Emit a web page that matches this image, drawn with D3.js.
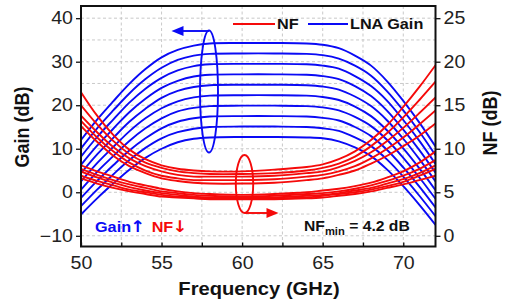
<!DOCTYPE html>
<html><head><meta charset="utf-8">
<script src="https://cdn.jsdelivr.net/npm/d3@7/dist/d3.min.js"></script>
<style>
body{margin:0;background:#fff}
svg{display:block;font-family:"Liberation Sans",Arial,Helvetica,sans-serif}
</style>
</head><body>
<svg id="c" width="506" height="303"></svg>
<script>
// ---- data ----
const freq = [50,51,52,53,54,55,56,57,58,60,62,64,65,66,67,68,69,70,71,72];
const gain0 = [12.0,16.7,20.9,24.9,28.3,31.0,32.7,33.7,34.2,34.3,34.3,34.2,33.9,33.1,31.4,29.1,25.5,21.0,16.0,10.5];
const gain1 = [10.1,14.7,18.8,22.7,26.0,28.6,30.4,31.4,31.8,31.9,31.9,31.8,31.5,30.7,29.1,26.8,23.2,18.8,13.9,8.5];
const gain2 = [8.2,12.7,16.7,20.6,23.8,26.3,28.0,29.0,29.4,29.5,29.5,29.4,29.1,28.4,26.7,24.4,21.0,16.6,11.8,6.5];
const gain3 = [6.3,10.7,14.6,18.4,21.5,24.0,25.6,26.6,27.0,27.1,27.1,27.0,26.7,26.0,24.4,22.1,18.7,14.4,9.7,4.5];
const gain4 = [4.4,8.7,12.5,16.2,19.2,21.7,23.3,24.2,24.6,24.7,24.7,24.6,24.3,23.6,22.0,19.8,16.5,12.3,7.6,2.5];
const gain5 = [2.5,6.7,10.4,14.0,17.0,19.3,20.9,21.8,22.2,22.3,22.3,22.2,21.9,21.2,19.7,17.5,14.2,10.1,5.5,0.5];
const gain6 = [0.6,4.7,8.3,11.8,14.7,17.0,18.6,19.4,19.8,19.9,19.9,19.8,19.5,18.8,17.3,15.2,12.0,7.9,3.4,-1.5];
const gain7 = [-1.3,2.6,6.2,9.6,12.4,14.7,16.2,17.0,17.4,17.5,17.5,17.4,17.1,16.5,15.0,12.9,9.7,5.7,1.3,-3.5];
const gain8 = [-3.2,0.6,4.1,7.4,10.2,12.4,13.8,14.6,15.0,15.1,15.1,15.0,14.7,14.1,12.6,10.6,7.5,3.6,-0.8,-5.5];
const gain9 = [-5.1,-1.4,2.0,5.2,7.9,10.0,11.5,12.3,12.6,12.7,12.7,12.6,12.4,11.7,10.3,8.3,5.2,1.4,-2.9,-7.5];
const nf0 = [16.5,13.8,11.6,9.9,8.8,8.1,7.7,7.5,7.4,7.4,7.6,7.9,8.2,8.8,9.7,11.0,12.7,14.8,17.1,19.6];
const nf1 = [15.0,12.8,10.9,9.4,8.4,7.8,7.4,7.2,7.1,7.1,7.2,7.5,7.8,8.3,9.1,10.3,11.8,13.6,15.6,17.7];
const nf2 = [13.8,11.9,10.2,8.9,8.0,7.4,7.0,6.8,6.8,6.8,6.9,7.2,7.4,7.9,8.6,9.6,10.9,12.4,14.1,15.9];
const nf3 = [13.2,11.3,9.7,8.4,7.5,6.9,6.6,6.4,6.4,6.4,6.5,6.8,7.0,7.4,8.0,8.9,10.0,11.3,12.8,14.4];
const nf4 = [12.6,10.8,9.2,8.0,7.2,6.6,6.3,6.1,6.0,6.0,6.1,6.4,6.6,7.0,7.5,8.3,9.2,10.3,11.5,12.9];
const nf5 = [8.1,7.4,6.8,6.2,5.8,5.4,5.1,4.9,4.8,4.7,4.8,5.0,5.2,5.4,5.7,6.1,6.7,7.4,8.4,9.7];
const nf6 = [7.7,7.0,6.4,5.9,5.5,5.1,4.9,4.7,4.6,4.5,4.6,4.8,4.9,5.1,5.4,5.8,6.3,6.9,7.7,8.7];
const nf7 = [7.4,6.7,6.1,5.6,5.2,4.9,4.7,4.5,4.4,4.4,4.4,4.6,4.7,4.9,5.2,5.5,6.0,6.5,7.2,8.1];
const nf8 = [6.9,6.3,5.8,5.3,5.0,4.7,4.5,4.4,4.3,4.3,4.3,4.4,4.6,4.8,5.0,5.3,5.7,6.2,6.9,7.7];
const nf9 = [6.6,6.0,5.5,5.1,4.8,4.5,4.4,4.3,4.2,4.2,4.2,4.3,4.4,4.6,4.8,5.1,5.5,5.9,6.4,6.9];
const gainSeries = [gain0,gain1,gain2,gain3,gain4,gain5,gain6,gain7,gain8,gain9];
const nfSeries = [nf0,nf1,nf2,nf3,nf4,nf5,nf6,nf7,nf8,nf9];
const xTicks = [50,55,60,65,70];
const xMinor = [52.5,57.5,62.5,67.5];
const gainTicks = [-10,0,10,20,30,40];
const nfTicks = [0,5,10,15,20,25];
const gridX = [52.5,55,57.5,60,62.5,65,67.5,70];
const gridY = [-10,-5,0,5,10,15,20,25,30,35,40];
const legendLabels = ["NF","LNA Gain"];
const nfMinLabel = {main:"NF", sub:"min", rest:" = 4.2 dB"};

// ---- layout ----
const L=81, R=435.5, T=6, B=246.5;
const SX = 1.12; // horizontal text stretch
const BLUE="#0a0af5", RED="#f50a0a";
const svg = d3.select("#c");
const x = d3.scaleLinear([50,72],[L,R]);
const yG = d3.scaleLinear([-12.46,42.8],[B,T]);
const yN = d3.scaleLinear([-1.23,26.4],[B,T]);

// grid
const grid = svg.append("g").attr("stroke","#c9c9c9").attr("stroke-width",1).attr("stroke-dasharray","3,2.5");
grid.selectAll("line.v").data(gridX).join("line").attr("class","v")
  .attr("x1",d=>x(d)).attr("x2",d=>x(d)).attr("y1",T).attr("y2",B);
grid.selectAll("line.h").data(gridY).join("line").attr("class","h")
  .attr("y1",d=>yG(d)).attr("y2",d=>yG(d)).attr("x1",L).attr("x2",R);

// clip
svg.append("clipPath").attr("id","clip").append("rect").attr("x",L).attr("y",T).attr("width",R-L).attr("height",B-T);
const plot = svg.append("g").attr("clip-path","url(#clip)");
const lineG = d3.line().x((d,i)=>x(freq[i])).y(d=>yG(d)).curve(d3.curveCatmullRom.alpha(0.5));
const lineN = d3.line().x((d,i)=>x(freq[i])).y(d=>yN(d)).curve(d3.curveCatmullRom.alpha(0.5));
plot.selectAll("path.g").data(gainSeries).join("path").attr("class","g")
  .attr("d",lineG).attr("fill","none").attr("stroke",BLUE).attr("stroke-width",1.9);
plot.selectAll("path.n").data(nfSeries).join("path").attr("class","n")
  .attr("d",lineN).attr("fill","none").attr("stroke",RED).attr("stroke-width",1.9);

// axes
function styleAxis(g){
  g.select(".domain").remove();
  g.selectAll("line").attr("stroke","#111").attr("stroke-width",1.3);
  g.selectAll("text").attr("fill","#222").style("font-size","17.5px");
}
const ax = svg.append("g").attr("transform",`translate(0,${B})`)
  .call(d3.axisBottom(x).tickValues(xTicks.concat(xMinor)).tickSize(-4).tickPadding(10)
    .tickFormat(d=>xTicks.includes(d)?d:""));
styleAxis(ax);
ax.selectAll("text").attr("transform",`scale(${SX},1)`);

const ay = svg.append("g").attr("transform",`translate(${L},0)`)
  .call(d3.axisLeft(yG).tickValues(gainTicks).tickSize(5).tickPadding(3));
styleAxis(ay);
ay.selectAll("text").attr("x",-8/SX).attr("transform",`scale(${SX},1)`);

const ayr = svg.append("g").attr("transform",`translate(${R},0)`)
  .call(d3.axisRight(yN).tickValues(nfTicks).tickSize(5).tickPadding(3));
styleAxis(ayr);
ayr.selectAll("text").attr("x",8/SX).attr("transform",`scale(${SX},1)`);

// frame
svg.append("rect").attr("x",L).attr("y",T).attr("width",R-L).attr("height",B-T)
  .attr("fill","none").attr("stroke","#111").attr("stroke-width",2);

// axis titles
function stretchedText(px,py,rot,txt,size,color){
  return svg.append("text").attr("transform",`translate(${px},${py}) rotate(${rot}) scale(${rot?1:SX},${rot?SX:1})`)
    .attr("text-anchor","middle").style("font-size",size+"px").style("font-weight","bold").attr("fill",color).text(txt);
}
stretchedText(259,295,0,"Frequency (GHz)",18,"#111");
stretchedText(29,127,-90,"Gain (dB)",18,"#111");
stretchedText(497,123,-90,"NF (dB)",18,"#111");

// legend
const leg = svg.append("g");
leg.append("line").attr("x1",233).attr("x2",275).attr("y1",24).attr("y2",24).attr("stroke",RED).attr("stroke-width",1.9);
leg.append("line").attr("x1",308).attr("x2",348).attr("y1",24).attr("y2",24).attr("stroke",BLUE).attr("stroke-width",1.9);
leg.append("text").attr("transform",`translate(277,29) scale(${SX},1)`).style("font-size","14.5px").style("font-weight","bold").attr("fill","#111").text(legendLabels[0]);
leg.append("text").attr("transform",`translate(350,29) scale(${SX},1)`).style("font-size","14.5px").style("font-weight","bold").attr("fill","#111").text(legendLabels[1]);

// annotations: ellipses + arrows
const ann = svg.append("g").attr("fill","none").attr("stroke-width",1.9);
ann.append("ellipse").attr("cx",209).attr("cy",91.5).attr("rx",9).attr("ry",61).attr("stroke",BLUE);
ann.append("line").attr("x1",209).attr("x2",182).attr("y1",31).attr("y2",31).attr("stroke",BLUE);
svg.append("path").attr("d","M171.5,31 L183.5,26 L183.5,36 Z").attr("fill",BLUE);
ann.append("ellipse").attr("cx",244.5).attr("cy",184).attr("rx",8.7).attr("ry",29).attr("stroke",RED);
ann.append("line").attr("x1",245).attr("x2",268).attr("y1",213).attr("y2",213).attr("stroke",RED);
svg.append("path").attr("d","M278.5,213 L266.5,208 L266.5,218 Z").attr("fill",RED);

// NFmin label
const nt = svg.append("text").attr("transform",`translate(304,231) scale(${SX},1)`)
  .style("font-size","14px").style("font-weight","bold").attr("fill","#111");
nt.append("tspan").text(nfMinLabel.main);
nt.append("tspan").attr("dy",4).style("font-size","10px").text(nfMinLabel.sub);
nt.append("tspan").attr("dy",-4).text(nfMinLabel.rest);

// Gain up / NF down
const gt = svg.append("text").attr("transform",`translate(95,232) scale(${SX},1)`)
  .style("font-size","14.5px").style("font-weight","bold");
gt.append("tspan").attr("fill",BLUE).text("Gain");
gt.append("tspan").attr("fill",BLUE).style("font-family","'DejaVu Sans'").style("font-size","16px").attr("dx",-1).text("↑");
gt.append("tspan").attr("fill",RED).attr("dx",6).text("NF");
gt.append("tspan").attr("fill",RED).style("font-family","'DejaVu Sans'").style("font-size","16px").attr("dx",-1).text("↓");
</script>
</body></html>
